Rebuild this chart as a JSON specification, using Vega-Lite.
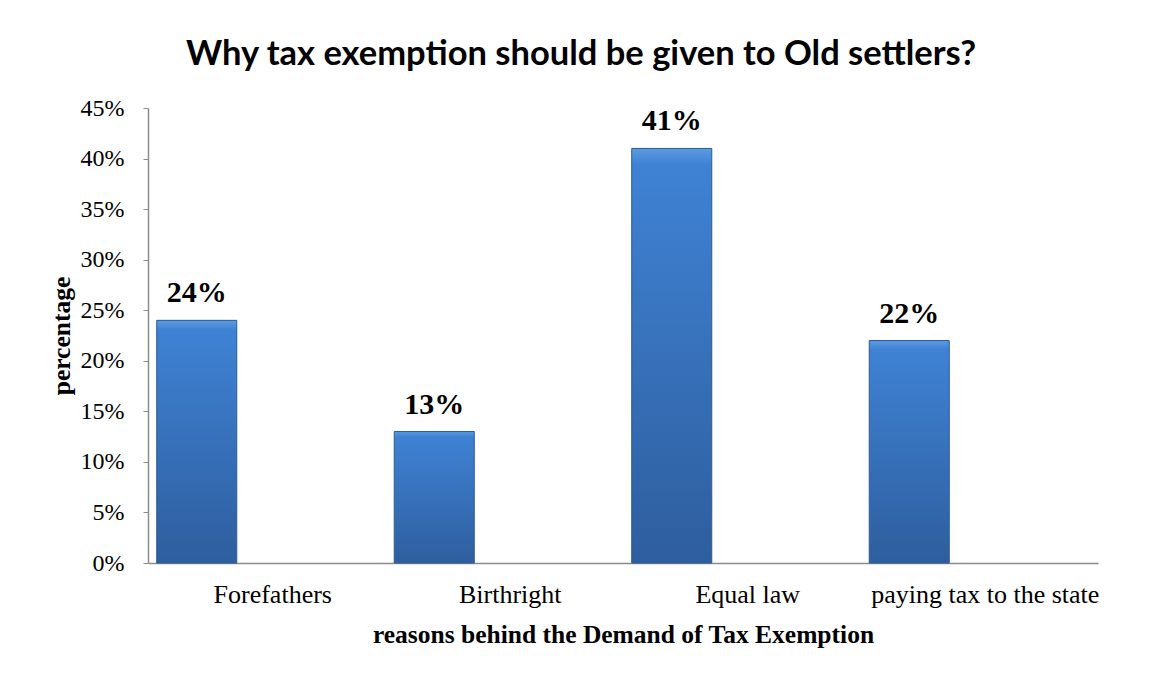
{
  "$schema": "https://vega.github.io/schema/vega-lite/v6.json",
  "autosize": "none",
  "width": 950,
  "height": 455,
  "padding": {"left": 148, "top": 108, "right": 58, "bottom": 112},
  "background": "white",
  "config": {"view": {"stroke": null}},
  "title": {
    "text": "Why tax exemption should be given to Old settlers?",
    "font": "Lato",
    "fontWeight": "bold",
    "fontSize": 34.5,
    "color": "#000000",
    "anchor": "middle",
    "dx": -42,
    "offset": 24
  },
  "data": {
    "values": [
      {"reason": "Forefathers", "pct": 0.24},
      {"reason": "Birthright", "pct": 0.13},
      {"reason": "Equal law", "pct": 0.41},
      {"reason": "paying tax to the state", "pct": 0.22}
    ]
  },
  "encoding": {
    "x": {
      "field": "reason",
      "type": "nominal",
      "sort": null,
      "scale": {"paddingInner": 0, "paddingOuter": 0},
      "axis": {
        "title": "reasons behind the Demand of Tax Exemption",
        "titleFont": "Liberation Serif",
        "titleFontSize": 25.5,
        "titleFontWeight": "bold",
        "titleColor": "#000000",
        "titleBaseline": "alphabetic",
        "titleY": 79,
        "labelAngle": 0,
        "labelFont": "Liberation Serif",
        "labelFontSize": 26,
        "labelColor": "#000000",
        "labelPadding": 18,
        "labelOffset": 6,
        "labelLimit": 0,
        "ticks": false,
        "domainColor": "#8c8c8c",
        "domainWidth": 1.5,
        "grid": false
      }
    },
    "y": {
      "field": "pct",
      "type": "quantitative",
      "scale": {"domain": [0, 0.45]},
      "axis": {
        "title": "percentage",
        "titleFont": "Liberation Serif",
        "titleFontSize": 25.5,
        "titleFontWeight": "bold",
        "titleColor": "#000000",
        "titleX": -87,
        "titleBaseline": "middle",
        "format": ".0%",
        "values": [0, 0.05, 0.1, 0.15, 0.2, 0.25, 0.3, 0.35, 0.4, 0.45],
        "labelFont": "Liberation Serif",
        "labelFontSize": 24,
        "labelColor": "#000000",
        "labelPadding": 19,
        "tickSize": 5,
        "tickColor": "#8c8c8c",
        "domainColor": "#8c8c8c",
        "domainWidth": 1.5,
        "grid": false
      }
    }
  },
  "layer": [
    {
      "mark": {
        "type": "bar",
        "width": {"band": 0.337},
        "xOffset": -70,
        "stroke": "#2b5a94",
        "strokeWidth": 1,
        "color": {
          "gradient": "linear",
          "x1": 0, "y1": 0, "x2": 0, "y2": 1,
          "stops": [
            {"offset": 0, "color": "#5b9be0"},
            {"offset": 0.04, "color": "#3f82d4"},
            {"offset": 1, "color": "#2e5e9e"}
          ]
        }
      }
    },
    {
      "mark": {
        "type": "text",
        "xOffset": -70,
        "dy": -18,
        "baseline": "alphabetic",
        "font": "Liberation Serif",
        "fontSize": 30,
        "fontWeight": "bold",
        "color": "#000000"
      },
      "encoding": {
        "text": {"field": "pct", "type": "quantitative", "format": ".0%"}
      }
    }
  ]
}
